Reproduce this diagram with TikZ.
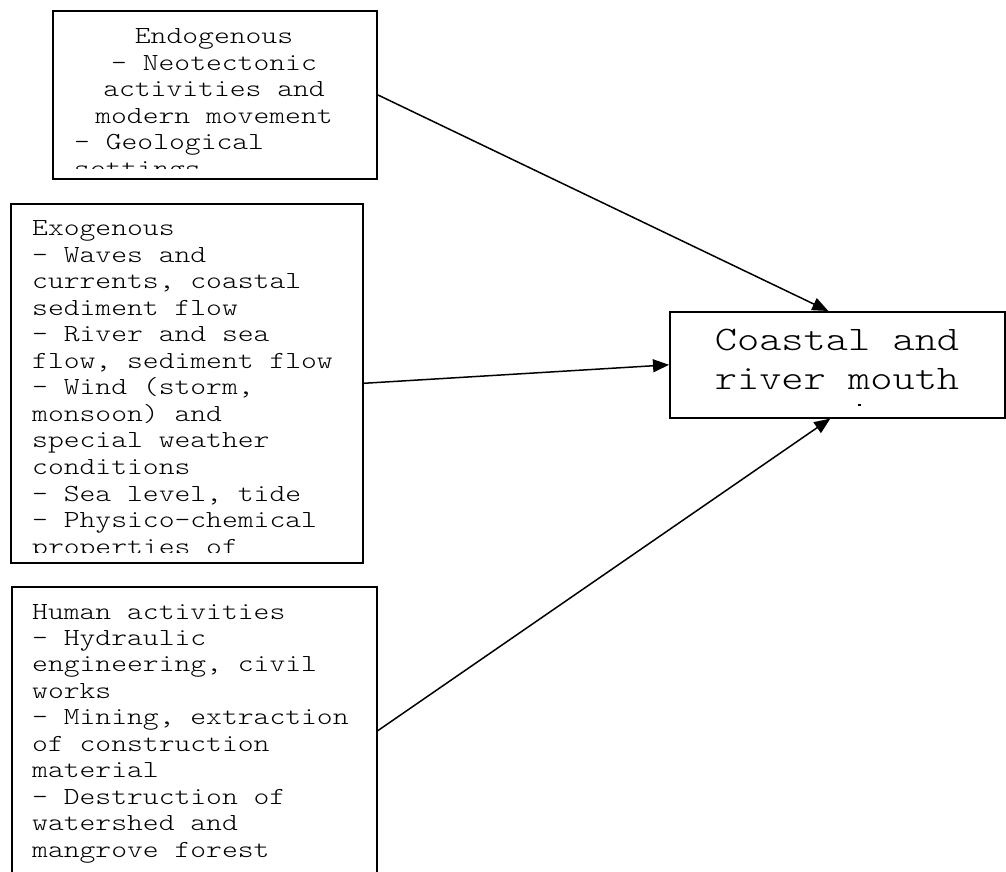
\documentclass[tikz,border=0pt]{standalone}
\usepackage{fontspec}
\newfontfamily\mono[FakeStretch=1.23]{Latin Modern Mono Light}
\usetikzlibrary{arrows.meta}
\begin{document}
\begin{tikzpicture}[x=1pt,y=-1pt,
  box/.style={draw,line width=1.6pt,rectangle,inner sep=0pt,anchor=north west},
  txt/.style={font=\mono\fontsize{24.5}{26.5}\selectfont,inner sep=0pt,text height=16pt,text depth=5pt,anchor=base west},
  ctxt/.style={txt,anchor=base},
  big/.style={font=\mono\fontsize{34.4}{38}\selectfont,inner sep=0pt,text height=22pt,text depth=7pt,anchor=base},
  arr/.style={line width=1.5pt,-{Triangle[length=16pt,width=13pt]}}]
\useasboundingbox (0,0) rectangle (1006,871);
\fill[white] (0,0) rectangle (1006,871);
% boxes
\node[box,minimum width=324pt,minimum height=168pt] (endo) at (52,10) {};
\node[box,minimum width=352pt,minimum height=359pt] (exo) at (10,203) {};
\node[box,minimum width=365pt,minimum height=288pt] (human) at (11,586) {};
\node[box,minimum width=335pt,minimum height=106pt] (coast) at (669,311) {};
% endogenous text
\begin{scope}
\clip (53,11) rectangle (375,168);
\node[ctxt] (e1) at (214,43.5) {Endogenous};
\node[ctxt] (e2) at (214,70) {- Neotectonic};
\node[ctxt] (e3) at (214,96.5) {activities and};
\node[ctxt] (e4) at (214,123) {modern movement};
\node[txt] (e5) at (74,149.5) {- Geological};
\node[txt] (e6) at (74,176) {settings};
\end{scope}
% exogenous text
\begin{scope}
\clip (11,204) rectangle (361,552);
\foreach \t [count=\i from 0] in {Exogenous,- Waves and,{currents, coastal},sediment flow,- River and sea,{flow, sediment flow},{- Wind (storm,},monsoon) and,special weather,conditions,{- Sea level, tide},- Physico-chemical,properties of}
  \node[txt] (x\i) at (32,235.5+26.55*\i) {\t};
\end{scope}
% human text
\foreach \t [count=\i from 0] in {Human activities,- Hydraulic,{engineering, civil},works,{- Mining, extraction},of construction,material,- Destruction of,watershed and,mangrove forest}
  \node[txt] (h\i) at (32,619+26.45*\i) {\t};
% target text
\node[big] (c1) at (837,350.5) {Coastal and};
\node[big] (c2) at (837,389) {river mouth};
\fill (858,403.5) rectangle (860.5,406);
% connectors
\draw[arr] (endo.east) -- ([xshift=-9pt]coast.north);
\draw[arr] (exo.east) -- (coast.west);
\draw[arr] (human.east) -- ([xshift=-7pt]coast.south);
\end{tikzpicture}
\end{document}
